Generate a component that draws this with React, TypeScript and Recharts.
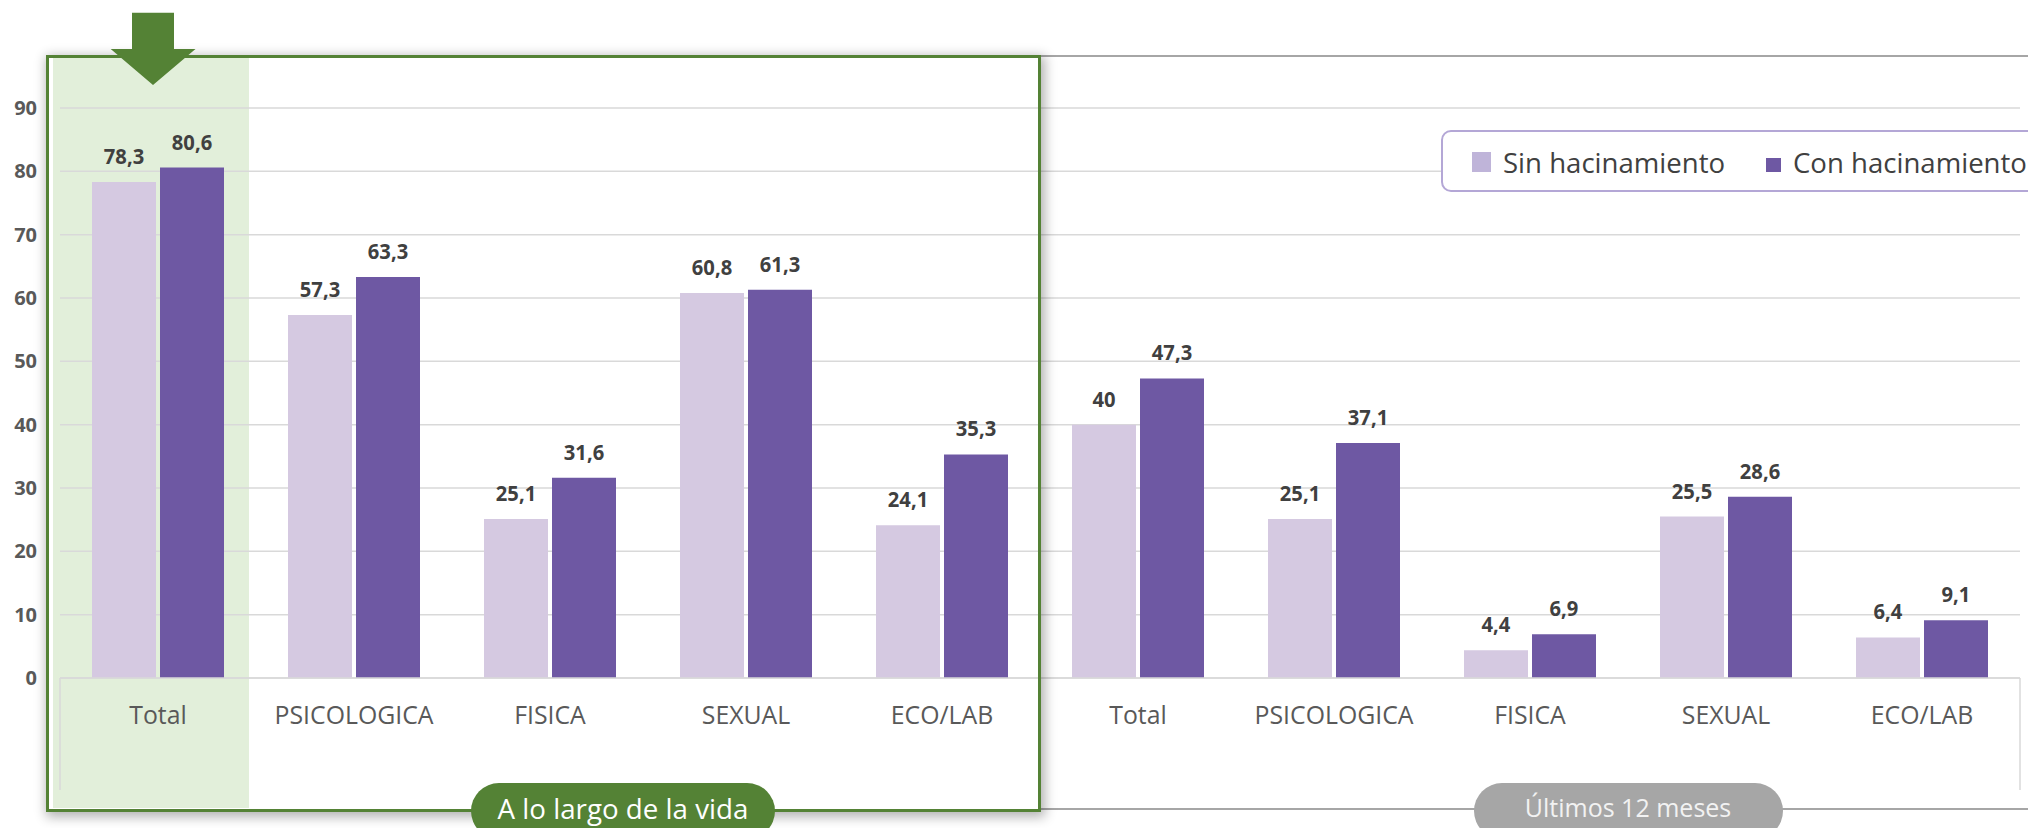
import React from 'react';
import { BarChart, Bar, XAxis, YAxis, CartesianGrid, LabelList } from 'recharts';

// ---- data ----
const categories = ['Total', 'PSICOLOGICA', 'FISICA', 'SEXUAL', 'ECO/LAB', 'Total', 'PSICOLOGICA', 'FISICA', 'SEXUAL', 'ECO/LAB'];
const sinHacinamiento = [78.3, 57.3, 25.1, 60.8, 24.1, 40, 25.1, 4.4, 25.5, 6.4];
const conHacinamiento = [80.6, 63.3, 31.6, 61.3, 35.3, 47.3, 37.1, 6.9, 28.6, 9.1];
const seriesNames = ['Sin hacinamiento', 'Con hacinamiento'];
const periodLabels = ['A lo largo de la vida', 'Últimos 12 meses'];
const yTicks = [0, 10, 20, 30, 40, 50, 60, 70, 80, 90];

const data = categories.map((cat, i) => ({
  key: String(i),
  cat,
  sin: sinHacinamiento[i],
  con: conHacinamiento[i],
}));

// ---- styles ----
const FONT = "'Open Sans', 'Noto Sans', sans-serif";
const SIN_COLOR = '#D5C9E1';
const CON_COLOR = '#6E58A3';
const GREEN = '#548235';
const GREEN_FILL = '#E2EFDA';
const GRAY = '#A6A6A6';
const GRID = '#D9D9D9';

const fmt = (v: number) => String(v).replace('.', ',');

function SvgText(props: any) {
  const { x, y, size, weight = 400, fill, anchor = 'middle', sx = 1, children } = props;
  return (
    <text
      transform={`translate(${x},${y}) scale(${sx},1)`}
      x={0}
      y={0}
      fontSize={size}
      fontWeight={weight}
      fill={fill}
      textAnchor={anchor}
      fontFamily={FONT}
    >
      {children}
    </text>
  );
}

const XTick = (props: any) => {
  const { x, y, payload } = props;
  return (
    <SvgText x={x} y={y + 46} size={26} fill="#595959" sx={0.955}>
      {categories[Number(payload.value)]}
    </SvgText>
  );
};

const YTick = (props: any) => {
  const { x, y, payload } = props;
  return (
    <SvgText x={x} y={y + 7} size={20} weight={700} fill="#595959" anchor="end">
      {payload.value}
    </SvgText>
  );
};

const ValueLabel = (props: any) => {
  const { x, y, width, value } = props;
  return (
    <SvgText x={Number(x) + Number(width) / 2} y={Number(y) - 18} size={21} weight={700} fill="#404040" sx={0.96}>
      {fmt(Number(value))}
    </SvgText>
  );
};

export default function App() {
  return (
    <div
      style={{
        position: 'absolute',
        left: 0,
        top: 0,
        width: 2028,
        height: 828,
        overflow: 'hidden',
        background: '#fff',
        fontFamily: FONT,
      }}
    >
      {/* highlighted first category */}
      <div style={{ position: 'absolute', left: 53, top: 58, width: 196, height: 750, background: GREEN_FILL }} />

      <div style={{ position: 'absolute', left: 0, top: 0 }}>
        <BarChart
          width={2028}
          height={828}
          data={data}
          margin={{ top: 108, right: 8, bottom: 0, left: 0 }}
          barGap={4}
          barSize={64}
        >
          <CartesianGrid vertical={false} stroke={GRID} strokeWidth={1.5} />
          <XAxis
            dataKey="key"
            interval={0}
            height={150}
            tickLine={false}
            tickSize={0}
            tickMargin={0}
            axisLine={{ stroke: GRID, strokeWidth: 1.5 }}
            tick={<XTick />}
          />
          <YAxis
            domain={[0, 90]}
            ticks={yTicks}
            width={60}
            axisLine={false}
            tickLine={false}
            tickSize={0}
            tickMargin={23}
            tick={<YTick />}
          />
          <Bar dataKey="sin" name={seriesNames[0]} fill={SIN_COLOR} isAnimationActive={false}>
            <LabelList dataKey="sin" content={<ValueLabel />} />
          </Bar>
          <Bar dataKey="con" name={seriesNames[1]} fill={CON_COLOR} isAnimationActive={false}>
            <LabelList dataKey="con" content={<ValueLabel />} />
          </Bar>
        </BarChart>
      </div>

      {/* gray box + category group separators */}
      <svg width={2028} height={828} style={{ position: 'absolute', left: 0, top: 0, pointerEvents: 'none' }}>
        <line x1={60} y1={678} x2={60} y2={790} stroke={GRID} strokeWidth={1.5} />
        <line x1={2020} y1={678} x2={2020} y2={790} stroke={GRID} strokeWidth={1.5} />
        <rect x={1040} y={56} width={1100} height={753} fill="none" stroke={GRAY} strokeWidth={2} />
      </svg>

      {/* green box with shadow */}
      <div
        style={{
          position: 'absolute',
          left: 45.5,
          top: 54.5,
          width: 995,
          height: 757,
          border: `3.5px solid ${GREEN}`,
          boxSizing: 'border-box',
          boxShadow: '2px 3px 11px 2px rgba(0,0,0,0.3)',
          pointerEvents: 'none',
        }}
      />

      {/* arrow, legend, group pills */}
      <svg width={2028} height={828} style={{ position: 'absolute', left: 0, top: 0, pointerEvents: 'none' }}>
        <polygon
          points="132,12.7 174,12.7 174,49 195.5,49 153,85 110.7,49 132,49"
          fill={GREEN}
        />

        <rect x={1442} y={131} width={700} height={60} rx={9} ry={9} fill="#fff" stroke="#B4A7D6" strokeWidth={2} />
        <rect x={1472} y={152} width={19} height={20} fill="#BFB4D9" />
        <SvgText x={1503} y={173} size={28} fill="#404040" anchor="start" sx={0.985}>
          {seriesNames[0]}
        </SvgText>
        <rect x={1766} y={158} width={15} height={14} fill={CON_COLOR} />
        <SvgText x={1793} y={173} size={28} fill="#404040" anchor="start" sx={0.985}>
          {seriesNames[1]}
        </SvgText>

        <rect x={471} y={783} width={304} height={56} rx={28} ry={28} fill={GREEN} />
        <SvgText x={623} y={819} size={28} fill="#fff" sx={0.99}>
          {periodLabels[0]}
        </SvgText>
        <rect x={1474} y={783} width={309} height={56} rx={28} ry={28} fill={GRAY} />
        <SvgText x={1628} y={817} size={25} fill="#F2F2F2">
          {periodLabels[1]}
        </SvgText>
      </svg>
    </div>
  );
}
